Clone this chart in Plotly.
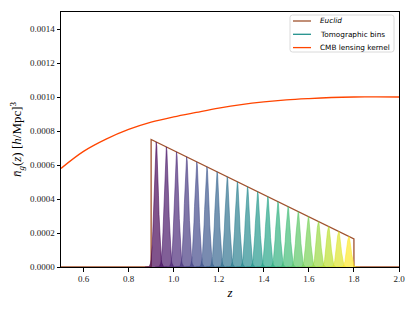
import numpy as np
import plotly.graph_objects as go
from plotly.colors import sample_colorscale

# ---- data ----
euclid_z = [0.5, 0.9, 0.9, 1.8, 1.8, 2.0]
euclid_n = [0.0, 0.0, 0.00075, 0.000165, 0.0, 0.0]

bin_centers = [0.9225, 0.9675, 1.0125, 1.0575, 1.1025, 1.1475, 1.1925, 1.2375,
               1.2825, 1.3275, 1.3725, 1.4175, 1.4625, 1.5075, 1.5525, 1.5975,
               1.6425, 1.6875, 1.7325, 1.7775]
bin_peaks = [0.000735, 0.000706, 0.000677, 0.000648, 0.000618, 0.000589,
             0.000560, 0.000531, 0.000501, 0.000472, 0.000443, 0.000414,
             0.000384, 0.000355, 0.000326, 0.000297, 0.000267, 0.000238,
             0.000209, 0.000180]
bin_sigma = 0.0095

cmb_z = [0.5, 0.6, 0.7, 0.8, 0.9, 1.0, 1.1, 1.2, 1.3, 1.4, 1.5, 1.6, 1.7, 1.8, 1.9, 2.0]
cmb_w = [0.000580, 0.000680, 0.000752, 0.000809, 0.000852, 0.000883, 0.000909,
         0.000934, 0.000955, 0.000971, 0.000983, 0.000991, 0.000997, 0.001000,
         0.001001, 0.001000]

x_ticks = [0.6, 0.8, 1.0, 1.2, 1.4, 1.6, 1.8, 2.0]
y_ticks = [0.0, 0.0002, 0.0004, 0.0006, 0.0008, 0.0010, 0.0012, 0.0014]

legend_labels = ["<i>Euclid</i>", "Tomographic bins", "CMB lensing kernel"]

EUCLID_C = "#a0522d"
CMB_C = "#ff4500"
TOMO_C = "#21918c"
legend_colors = [EUCLID_C, TOMO_C, CMB_C]

fig = go.Figure()

fig.add_trace(go.Scatter(x=euclid_z, y=euclid_n, mode="lines",
                         line=dict(color=EUCLID_C, width=1.3),
                         name="Euclid", showlegend=False))

cols = sample_colorscale("Viridis", [i / (len(bin_centers) - 1) for i in range(len(bin_centers))])
for c, p, col in zip(bin_centers, bin_peaks, cols):
    zz = np.linspace(c - 0.05, c + 0.05, 41)
    nn = p * np.exp(-0.5 * ((zz - c) / bin_sigma) ** 2)
    rgb = col[col.index("(") + 1:col.index(")")]
    fig.add_trace(go.Scatter(x=zz, y=nn, mode="lines", fill="tozeroy",
                             fillcolor=f"rgba({rgb},0.68)",
                             line=dict(color=f"rgba({rgb},0.9)", width=0.6),
                             showlegend=False, hoverinfo="skip"))

fig.add_trace(go.Scatter(x=cmb_z, y=cmb_w, mode="lines", line_shape="spline",
                         line=dict(color=CMB_C, width=1.3),
                         name="CMB lensing kernel", showlegend=False))

axis_common = dict(showline=True, mirror=True, linecolor="black", linewidth=1,
                   ticks="outside", ticklen=3.5, tickwidth=0.8, tickcolor="black",
                   showgrid=False, zeroline=False,
                   tickfont=dict(family="Liberation Serif", size=9, color="#222"))

# page body has an 8px margin: compensate so the plot area lands at
# x 61..399, y 12..267 in the 415x311 window
PL, PR, PT, PB = 61, 399, 12, 267
W, H = PR - PL, PB - PT


def px(xp):
    return (xp - PL) / W


def py(yp):
    return (PB - yp) / H


# compact legend box (matplotlib-like)
bx0, bx1, by0, by1 = px(290), px(394), py(52), py(15)
rx, ry = 2.5 / W, 2.5 / H
path = (f"M {bx0+rx},{by0} L {bx1-rx},{by0} Q {bx1},{by0} {bx1},{by0+ry} "
        f"L {bx1},{by1-ry} Q {bx1},{by1} {bx1-rx},{by1} L {bx0+rx},{by1} "
        f"Q {bx0},{by1} {bx0},{by1-ry} L {bx0},{by0+ry} Q {bx0},{by0} {bx0+rx},{by0} Z")
shapes = [dict(type="path", xref="paper", yref="paper", path=path,
               fillcolor="rgba(255,255,255,0.85)", line=dict(color="#d0d0d0", width=0.8))]
annotations = []
for i, (lab, col) in enumerate(zip(legend_labels, legend_colors)):
    yy = py(21 + i * 13.3)
    shapes.append(dict(type="line", xref="paper", yref="paper",
                       x0=px(293), x1=px(311), y0=yy, y1=yy,
                       line=dict(color=col, width=1.3)))
    annotations.append(dict(xref="paper", yref="paper", x=px(317.5), y=yy,
                            xanchor="left", yanchor="middle", text=lab, showarrow=False,
                            font=dict(family="DejaVu Sans", size=7.3, color="black")))

fig.update_layout(
    width=407, height=303,
    margin=dict(l=PL - 8, r=415 - PR, t=PT - 8, b=311 - PB),
    plot_bgcolor="white", paper_bgcolor="white",
    xaxis=dict(range=[0.5, 2.0], tickvals=x_ticks, tickformat=".1f",
               title=dict(text="<i>z</i>", font=dict(family="Liberation Serif", size=13, color="black"),
                          standoff=4),
               **axis_common),
    yaxis=dict(range=[0, 0.0015], tickvals=y_ticks, tickformat=".4f",
               title=dict(text="<i>n̄</i><sub><i>g</i></sub>(<i>z</i>) [<i>h</i>/Mpc]<sup>3</sup>",
                          font=dict(family="Liberation Serif", size=13, color="black"),
                          standoff=10),
               **axis_common),
    shapes=shapes,
    annotations=annotations,
    showlegend=False,
)

fig.write_html("out.html")
